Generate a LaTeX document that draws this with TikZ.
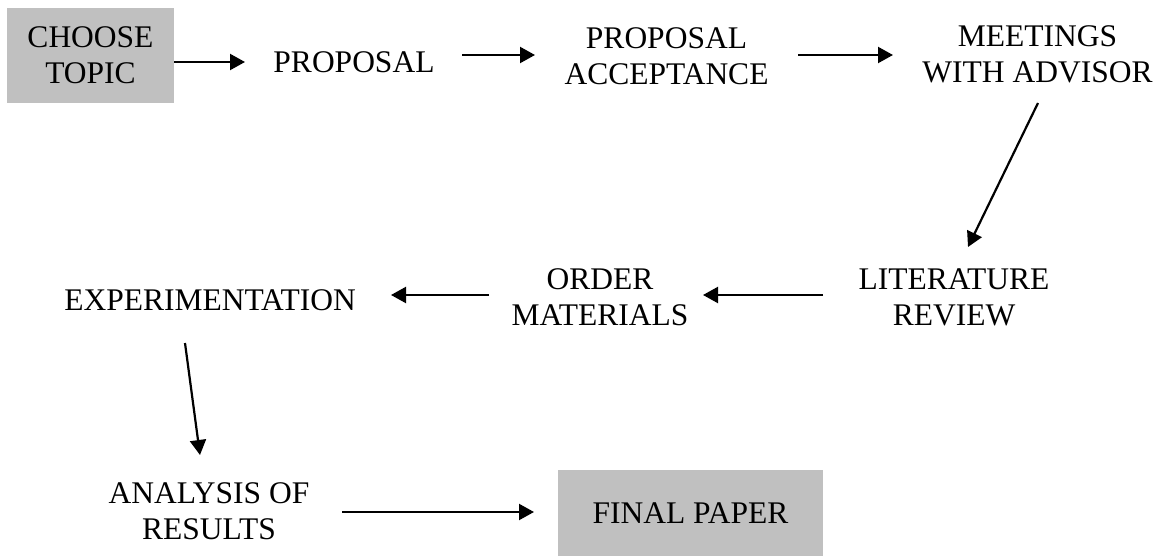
\documentclass[tikz,border=0pt]{standalone}
\usepackage{fontspec}
\setmainfont{Liberation Serif}
\usetikzlibrary{arrows.meta,calc}
\definecolor{boxgrey}{HTML}{C0C0C0}
\begin{document}
\begin{tikzpicture}[x=1pt,y=-1pt,
  lbl/.style={inner sep=0pt,align=center,font=\fontsize{31.5}{36}\selectfont},
  greybox/.style={lbl,fill=boxgrey},
  arr/.style={line width=2.2pt,-{Triangle[length=15pt,width=16pt]}}]
\useasboundingbox (0,0) rectangle (1160,556);
\node[greybox,minimum width=167pt,minimum height=95pt] (ct) at (90.5,55.5) {CHOOSE\\TOPIC};
\node[lbl] (prop) at (354,62) {PROPOSAL};
\node[lbl] (acc) at (666.5,56) {PROPOSAL\\ACCEPTANCE};
\node[lbl] (meet) at (1037.5,54.5) {MEETINGS\\WITH ADVISOR};
\node[lbl] (lit) at (954,297) {LITERATURE\\REVIEW};
\node[lbl] (ord) at (600,297) {ORDER\\MATERIALS};
\node[lbl] (exp) at (210,300) {EXPERIMENTATION};
\node[lbl] (ana) at (209,511.5) {ANALYSIS OF\\RESULTS};
\node[greybox,minimum width=265pt,minimum height=86pt] (fin) at (690.5,513) {FINAL PAPER};
\draw[arr] ($(ct.east)+(0,6.5)$) -- ($(prop.center)+(-109,0)$);
\draw[arr] ($(prop.center)+(108,-7)$) -- ($(acc.center)+(-131.5,-1)$);
\draw[arr] ($(acc.center)+(131.5,-1)$) -- ($(meet.center)+(-144.5,0.5)$);
\draw[arr] ($(meet.center)+(0.5,48.5)$) -- ($(lit.center)+(14,-50)$);
\draw[arr] ($(lit.center)+(-131,-2)$) -- ($(ord.center)+(103,-2)$);
\draw[arr] ($(ord.center)+(-111,-2)$) -- ($(exp.center)+(181,-5)$);
\draw[arr] ($(exp.center)+(-25,43)$) -- ($(ana.center)+(-9,-56.5)$);
\draw[arr] ($(ana.center)+(133,0.5)$) -- ($(fin.center)+(-156.5,-1)$);
\end{tikzpicture}
\end{document}
